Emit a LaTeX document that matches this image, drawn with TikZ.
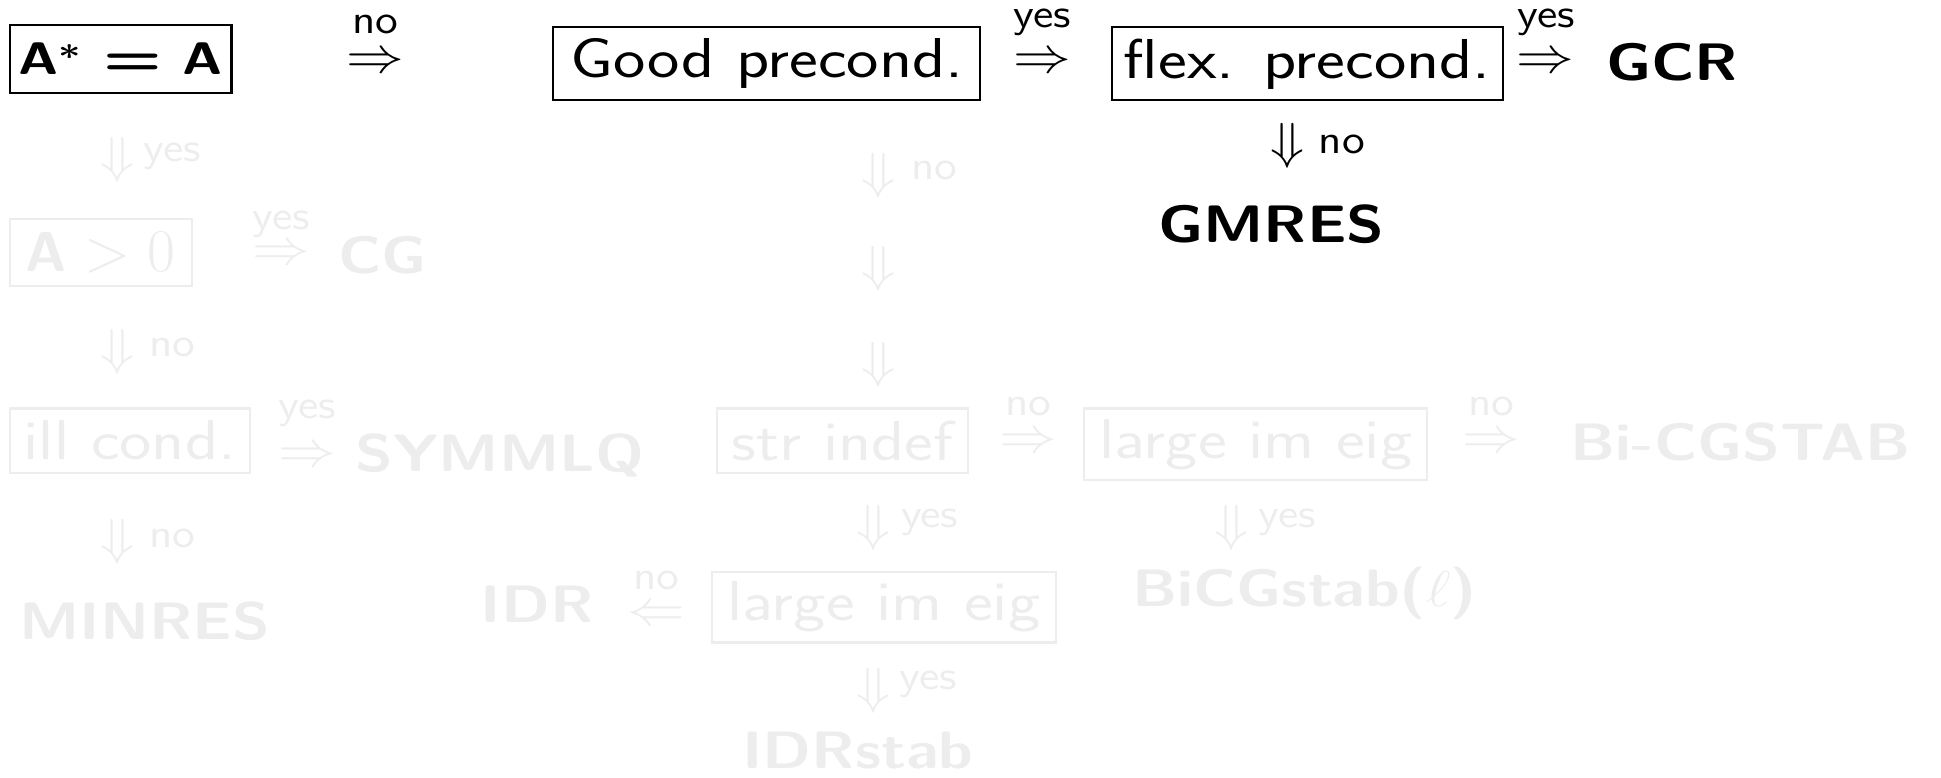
\documentclass[tikz,border=0pt]{standalone}
\usepackage{amsmath}
\usepackage{graphicx}
\renewcommand{\familydefault}{\sfdefault}
\newcommand{\hs}[2]{\scalebox{#1}[1]{#2}}
\newcommand{\bt}[1]{\hs{1.22}{#1}}
\newcommand{\rt}[1]{\hs{1.17}{#1}}
\newcommand{\lt}[1]{\hs{1.15}{#1}}
\begin{document}
\begin{tikzpicture}[x=0.1238mm,y=-0.1238mm,
  fade/.style={text=black!7,draw=black!7},
  box/.style 2 args={draw,line width=0.6pt,minimum width=#1*0.1238mm,minimum height=#2*0.1238mm,inner sep=0pt,font=\fontsize{16}{18}\selectfont},
  res/.style={inner sep=0pt,font=\fontsize{15}{18}\selectfont\bfseries},
  arr/.style={inner sep=0pt,font=\fontsize{14}{16}\selectfont},
  lab/.style={inner sep=0pt,font=\fontsize{11.5}{13}\selectfont}]
\useasboundingbox (0,0) rectangle (1568,628);
% active part
\node[box={179}{55},font=\fontsize{13}{15}\selectfont\bfseries\boldmath] (q1) at (97.5,47.5) {\hs{1.2}{A$^{*}$ \scalebox{1.25}[1.1]{=} A}};
\node[arr] (a1) at (303,51) {\hs{1.14}{$\Rightarrow$}};
\node[lab] (l1) at (303,20) {\lt{no}};
\node[box={345}{59}] (good) at (619.5,51.5) {\bt{Good precond.}};
\node[arr] (a2) at (842,51) {\hs{1.14}{$\Rightarrow$}};
\node[lab] (l2) at (842,18) {\lt{yes}};
\node[box={316}{59}] (flex) at (1056,51.5) {\bt{flex. precond.}};
\node[arr] (a3) at (1248,51) {\hs{1.14}{$\Rightarrow$}};
\node[lab] (l3) at (1249,18) {\lt{yes}};
\node[res] (gcr) at (1351,50) {\rt{GCR}};
\node[arr] (a4) at (1040,118) {\hs{1.1}{$\Downarrow$}};
\node[lab] (l4) at (1084,117) {\lt{no}};
\node[res] (gmres) at (1027,181) {\rt{GMRES}};
% faded part
\begin{scope}[fade]
\node[arr] (d1) at (95,129) {\hs{1.1}{$\Downarrow$}};
\node[lab] (m1) at (139,126) {\lt{yes}};
\node[box={147}{54}] (pos) at (81.5,204) {\textbf{A} $>0$};
\node[arr] (b1) at (227,206) {\hs{1.14}{$\Rightarrow$}};
\node[lab] (n1) at (227,181) {\lt{yes}};
\node[res] (cg) at (309,206) {\rt{CG}};
\node[arr] (d2) at (95,284) {\hs{1.1}{$\Downarrow$}};
\node[lab] (m2) at (139,281) {\lt{no}};
\node[box={194}{52}] (ill) at (105,356) {\bt{ill cond.}};
\node[arr] (b2) at (248,369) {\hs{1.14}{$\Rightarrow$}};
\node[lab] (n2) at (248,334) {\lt{yes}};
\node[res] (symmlq) at (404,368) {\rt{SYMMLQ}};
\node[arr] (d3) at (95,438) {\hs{1.1}{$\Downarrow$}};
\node[lab] (m3) at (139,435) {\lt{no}};
\node[res] (minres) at (117,502) {\rt{MINRES}};
\node[arr] (d4) at (710,142) {\hs{1.1}{$\Downarrow$}};
\node[lab] (m4) at (755,138) {\lt{no}};
\node[arr] (d5) at (710,217) {\hs{1.1}{$\Downarrow$}};
\node[arr] (d6) at (710,295) {\hs{1.1}{$\Downarrow$}};
\node[box={203}{52}] (str) at (680.5,356) {\bt{str indef}};
\node[arr] (b3) at (831,358) {\hs{1.14}{$\Rightarrow$}};
\node[lab] (n3) at (831,328) {\lt{no}};
\node[box={277}{58}] (lie1) at (1014.5,359) {\bt{large im eig}};
\node[arr] (b4) at (1205,358) {\hs{1.14}{$\Rightarrow$}};
\node[lab] (n4) at (1205,328) {\lt{no}};
\node[res] (bicgstab) at (1406,357) {\rt{Bi-CGSTAB}};
\node[arr] (d7) at (706,426) {\hs{1.1}{$\Downarrow$}};
\node[lab] (m7) at (751,422) {\lt{yes}};
\node[arr] (d8) at (995,426) {\hs{1.1}{$\Downarrow$}};
\node[lab] (m8) at (1040,422) {\lt{yes}};
\node[res] (bicgl) at (1054,479) {\rt{BiCGstab($\ell$)}};
\node[box={278}{57}] (lie2) at (714,490.5) {\bt{large im eig}};
\node[arr] (b5) at (530,498) {\hs{1.14}{$\Leftarrow$}};
\node[lab] (n5) at (530,469) {\lt{no}};
\node[res] (idr) at (434,488) {\rt{IDR}};
\node[arr] (d9) at (706,558) {\hs{1.1}{$\Downarrow$}};
\node[lab] (m9) at (750,553) {\lt{yes}};
\node[res] (idrstab) at (693,606) {\rt{IDRstab}};
\end{scope}
\end{tikzpicture}
\end{document}
